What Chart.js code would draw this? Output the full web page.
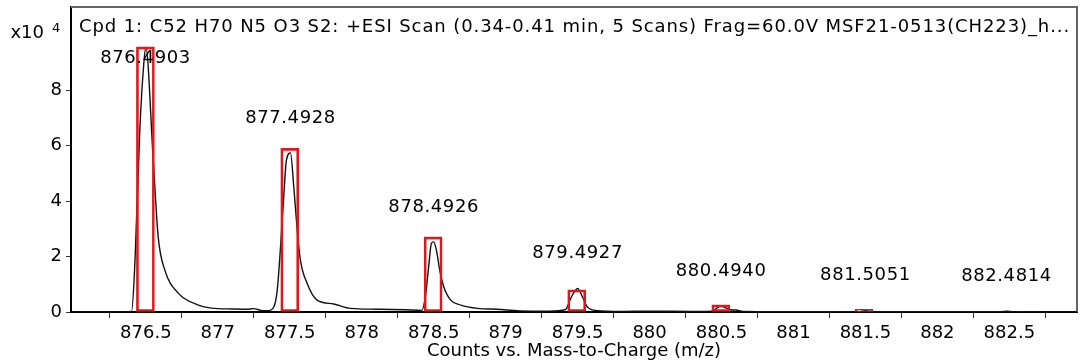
<!DOCTYPE html>
<html>
<head>
<meta charset="utf-8">
<script src="https://cdn.jsdelivr.net/npm/chart.js@4.4.1/dist/chart.umd.min.js"></script>
<style>
  html, body { margin: 0; padding: 0; background: #fff; }
</style>
</head>
<body>
<canvas id="spectrum" width="1081" height="362"></canvas>
<script>
// profile spectrum (m/z, counts x10^4)
const profileMz = [875.98, 876.30, 876.401, 876.424, 876.458, 876.486, 876.500, 876.551, 876.586, 876.632,
  876.725, 876.864, 876.956, 877.10, 877.20, 877.25, 877.30, 877.35,
  877.389, 877.413, 877.436, 877.458, 877.477, 877.505, 877.528, 877.552, 877.574, 877.621,
  877.690, 877.805, 877.922, 878.10, 878.30,
  878.418, 878.442, 878.465, 878.484, 878.500, 878.519, 878.542, 878.570, 878.618, 878.688,
  878.806, 878.94, 879.10, 879.30,
  879.417, 879.452, 879.500, 879.533, 879.567, 879.636, 879.80, 880.00, 880.30,
  880.44, 880.47, 880.497, 880.53, 880.56, 880.60, 880.65, 881.00,
  881.45, 881.50, 881.56, 882.00, 882.44, 882.48, 882.53, 882.97];
const profileInt = [0.00, 0.00, 0.02, 1.77, 6.56, 8.97, 9.55, 5.51, 2.70, 1.51,
  0.68, 0.25, 0.14, 0.11, 0.10, 0.12, 0.06, 0.05,
  0.18, 0.79, 2.35, 4.15, 5.48, 5.74, 4.51, 2.95, 1.87, 1.03,
  0.43, 0.29, 0.13, 0.10, 0.08,
  0.06, 0.55, 1.63, 2.47, 2.53, 2.23, 1.51, 0.91, 0.43, 0.25,
  0.13, 0.10, 0.04, 0.03,
  0.09, 0.49, 0.85, 0.55, 0.19, 0.05, 0.02, 0.03, 0.02,
  0.03, 0.15, 0.21, 0.15, 0.08, 0.07, 0.02, 0.01,
  0.01, 0.05, 0.01, 0.01, 0.01, 0.03, 0.01, 0.00];

// predicted isotope boxes
const boxMz = [876.497, 877.500, 878.496, 879.494, 880.495, 881.490];
const boxInt = [9.56, 5.90, 2.71, 0.80, 0.26, 0.10];

// labelled peaks
const peakLabels = ['876.4903', '877.4928', '878.4926', '879.4927', '880.4940', '881.5051', '882.4814'];
const peakMz = [876.498, 877.505, 878.500, 879.500, 880.497, 881.500, 882.480];
const peakInt = [9.55, 5.74, 2.53, 0.85, 0.21, 0.05, 0.03];

const titleText = 'Cpd 1: C52 H70 N5 O3 S2: +ESI Scan (0.34-0.41 min, 5 Scans) Frag=60.0V MSF21-0513(CH223)_h...';
const FONT = 'DejaVu Sans';

const overlay = {
  id: 'overlay',
  beforeDatasetsDraw(chart) {
    const {ctx, chartArea: a} = chart;
    ctx.save();
    ctx.strokeStyle = '#666';
    ctx.lineWidth = 2;
    ctx.beginPath();
    ctx.moveTo(a.left, a.top);
    ctx.lineTo(a.right, a.top);
    ctx.lineTo(a.right, a.bottom);
    ctx.stroke();
    ctx.restore();
  },
  afterDatasetsDraw(chart) {
    const {ctx, chartArea: a, scales: {x, y}} = chart;
    ctx.save();
    ctx.fillStyle = '#000';
    ctx.font = '18px "' + FONT + '"';
    ctx.textAlign = 'center';
    ctx.textBaseline = 'middle';
    ctx.letterSpacing = '0.6px';
    peakLabels.forEach((txt, i) => {
      const py = Math.max(y.getPixelForValue(peakInt[i]) - 35, a.top + 51);
      ctx.fillText(txt, x.getPixelForValue(peakMz[i]), py);
    });
    // title inside the frame
    ctx.letterSpacing = '0.9px';
    ctx.textAlign = 'left';
    ctx.textBaseline = 'alphabetic';
    ctx.fillText(titleText, a.left + 8, a.top + 25);
    // exponent
    ctx.letterSpacing = '0px';
    ctx.textAlign = 'right';
    ctx.fillText('x10', 44, 38);
    ctx.font = '13px "' + FONT + '"';
    ctx.textAlign = 'left';
    ctx.fillText('4', 52, 32);
    ctx.restore();
  }
};

new Chart(document.getElementById('spectrum'), {
  type: 'line',
  data: {
    datasets: [{
      type: 'bar',
      data: boxMz.map((m, i) => ({x: m, y: boxInt[i]})),
      backgroundColor: 'rgba(0,0,0,0)',
      borderColor: '#e3161c',
      borderWidth: 2,
      borderSkipped: false,
      barThickness: 18,
      grouped: false,
      order: 0
    }, {
      data: profileMz.map((m, i) => ({x: m, y: profileInt[i]})),
      borderColor: '#111',
      borderWidth: 1.4,
      pointRadius: 0,
      cubicInterpolationMode: 'monotone',
      order: 1
    }]
  },
  options: {
    responsive: false,
    devicePixelRatio: 1,
    animation: false,
    layout: { padding: { top: 7, right: 4, left: 0, bottom: 0 } },
    plugins: { legend: { display: false }, tooltip: { enabled: false } },
    scales: {
      x: {
        type: 'linear',
        min: 875.98,
        max: 882.97,
        offset: false,
        ticks: {
          stepSize: 0.5,
          includeBounds: false,
          autoSkip: false,
          maxRotation: 0,
          padding: 5,
          color: '#000',
          font: { family: FONT, size: 18 },
          callback: v => (v < 876.2 ? '' : String(+v.toFixed(1)))
        },
        grid: { drawOnChartArea: false, tickLength: 6, color: '#333' },
        border: { color: '#000', width: 2 },
        title: {
          display: true,
          text: 'Counts vs. Mass-to-Charge (m/z)',
          color: '#000',
          font: { family: FONT, size: 18 },
          padding: 0
        },
        afterFit(s) { s.height = 50; s.paddingLeft = 0; s.paddingRight = 0; }
      },
      y: {
        min: 0,
        max: 11,
        ticks: {
          stepSize: 2,
          padding: 4,
          color: '#000',
          font: { family: FONT, size: 18 }
        },
        afterBuildTicks(s) { s.ticks = s.ticks.filter(t => t.value <= 8); },
        grid: { drawOnChartArea: false, tickLength: 5, color: '#333' },
        border: { color: '#000', width: 2 },
        afterFit(s) { s.width = 71; s.paddingTop = 0; s.paddingBottom = 0; }
      }
    }
  },
  plugins: [overlay]
});
</script>
</body>
</html>
